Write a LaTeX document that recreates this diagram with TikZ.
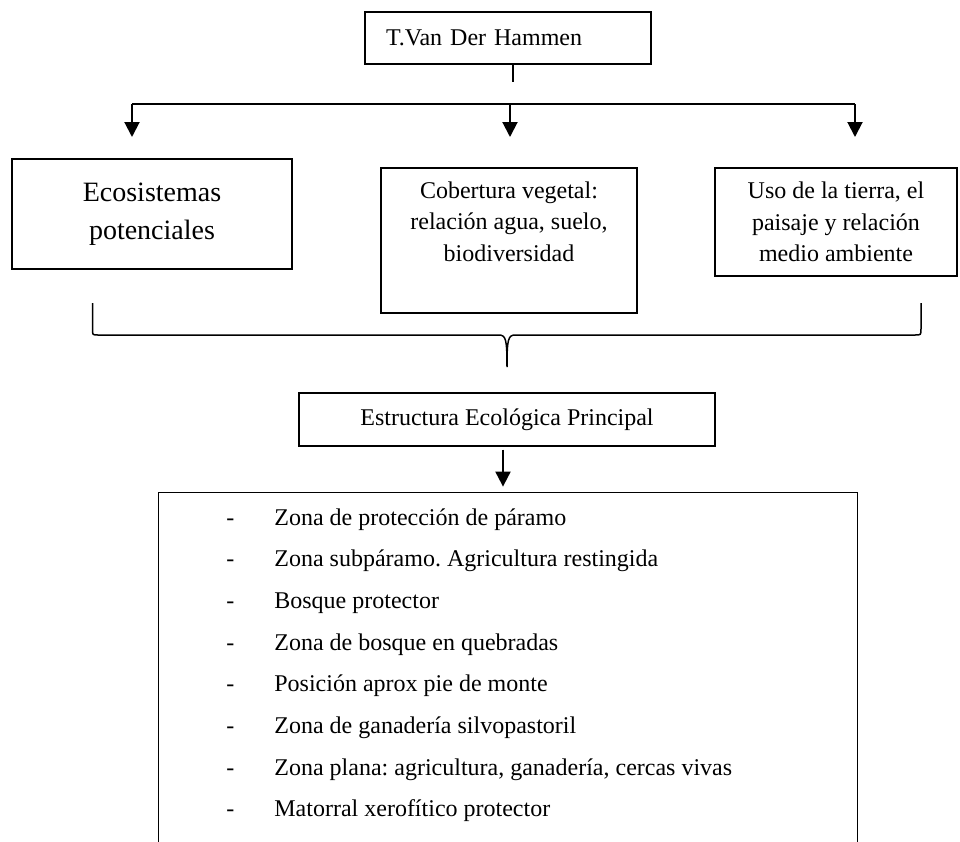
\documentclass[tikz,border=0pt]{standalone}
\usepackage{fontspec}
\setmainfont{Liberation Serif}
\usetikzlibrary{arrows.meta,positioning}
\frenchspacing

\newcommand{\guion}{\makebox[24pt][l]{-}}

\begin{document}
\begin{tikzpicture}[x=0.5pt,y=-0.5pt,
    caja/.style={draw,line width=0.6pt,inner sep=0pt},
    texto/.style={font=\fontsize{12}{15.75}\selectfont,align=center},
    linea/.style={line width=1pt},
    flecha/.style={line width=1pt,-{Triangle[width=7.5pt,length=7.5pt]}},
    renglon/.style={anchor=base west,inner sep=0pt,font=\fontsize{12}{14}\selectfont}]
    \useasboundingbox (0,0) rectangle (960,842);
    % autor
    \node[caja,minimum width=143pt,minimum height=26pt,text width=122pt,align=left,inner xsep=10.5pt,font=\fontsize{12}{14}\selectfont] (hammen) at (508,38) {T.Van Der Hammen};
    \coordinate (tallo) at (513,82);
    \draw[linea] ([xshift=2.5pt]hammen.south) -- (tallo);
    % barra y flechas
    \coordinate (barraizq) at (132,104);
    \coordinate (barramed) at (510,104);
    \coordinate (barrader) at (855,104);
    \coordinate (pizq) at (132,137);
    \coordinate (pmed) at (510,137);
    \coordinate (pder) at (855,137);
    \draw[linea] (barraizq) -- (barrader);
    \draw[flecha] (barraizq) -- (pizq);
    \draw[flecha] (barramed) -- (pmed);
    \draw[flecha] (barrader) -- (pder);
    % tres cajas
    \node[caja,minimum width=140pt,minimum height=55pt,font=\fontsize{14}{19}\selectfont,align=center] (eco) at (152,214) {Ecosistemas\\potenciales};
    \node[caja,minimum width=128pt,minimum height=72.5pt] (cob) at (509,240.5) {};
    \node[texto,below=3.5pt of cob.north] (cobtxt) {Cobertura vegetal:\\relación agua, suelo,\\biodiversidad};
    \node[caja,texto,minimum width=121pt,minimum height=54pt] (uso) at (836,222) {Uso de la tierra, el\\paisaje y relación\\medio ambiente};
    % llave
    \draw[line width=0.75pt] (92.5,303) -- (92.5,329) .. controls (92.5,335) .. (98,335) -- (499,335)
        .. controls (506,335) and (507,340) .. (507,367) .. controls (507,340) and (508,335) .. (515,335)
        -- (915,335) .. controls (921,335) .. (921,329) -- (921,303);
    % estructura
    \node[caja,minimum width=208pt,minimum height=26.5pt,font=\fontsize{12}{14}\selectfont] (eep) at (507,419.5) {Estructura Ecológica Principal};
    \node[minimum width=349pt,minimum height=174.5pt,inner sep=0pt] (lista) at (508,667.5) {};
    \draw[line width=0.6pt] (lista.south west) -- (lista.north west) -- (lista.north east) -- (lista.south east);
    \draw[flecha,shorten <=1.5pt,shorten >=3pt] ([xshift=-2pt]eep.south) -- ([xshift=-2pt]eep.south |- lista.north);
    % zonas
    \node[renglon] (z1) at (226,525) {\guion Zona de protección de páramo};
    \node[renglon] (z2) at (226,566.7) {\guion Zona subpáramo. Agricultura restingida};
    \node[renglon] (z3) at (226,608.4) {\guion Bosque protector};
    \node[renglon] (z4) at (226,650.1) {\guion Zona de bosque en quebradas};
    \node[renglon] (z5) at (226,691.8) {\guion Posición aprox pie de monte};
    \node[renglon] (z6) at (226,733.5) {\guion Zona de ganadería silvopastoril};
    \node[renglon] (z7) at (226,775.2) {\guion Zona plana: agricultura, ganadería, cercas vivas};
    \node[renglon] (z8) at (226,816.9) {\guion Matorral xerofítico protector};
\end{tikzpicture}
\end{document}
